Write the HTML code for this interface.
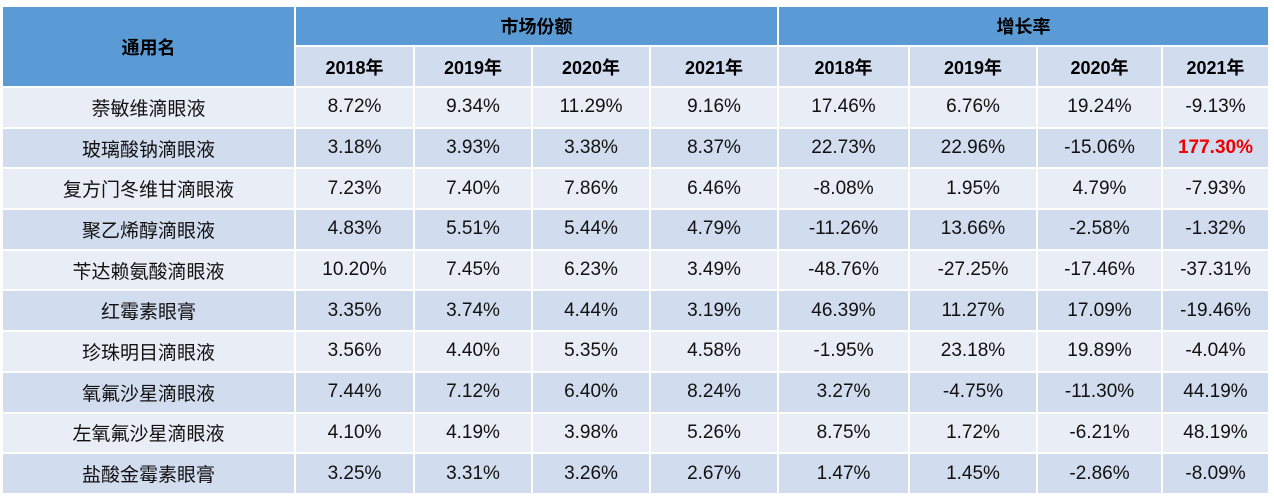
<!DOCTYPE html>
<html><head><meta charset="utf-8"><style>
body{margin:0;background:#fff;width:1274px;height:498px;overflow:hidden}
table{position:absolute;left:1px;top:5px;border-collapse:separate;border-spacing:2px;table-layout:fixed;font-family:"Liberation Sans","Noto Sans CJK SC",sans-serif;font-size:19px;color:#111}
td{padding:0;text-align:center;vertical-align:middle;overflow:hidden;white-space:nowrap}
.h{background:#5b9bd5;font-weight:bold;color:#000;font-size:18px}
.y{background:#d1dcee;font-weight:bold;color:#000;font-size:18px}
tr.a td{background:#e9edf6}
tr.b td{background:#d1dcee}
tr.a,tr.b{height:38.7px}
.r{color:#e00;font-weight:bold}
</style></head><body>
<table>
<colgroup><col style="width:291px"><col style="width:117px"><col style="width:116px"><col style="width:116px"><col style="width:126px"><col style="width:129px"><col style="width:126px"><col style="width:123px"><col style="width:105px"></colgroup>
<tr style="height:38px"><td class="h" rowspan="2">通用名</td><td class="h" colspan="4">市场份额</td><td class="h" colspan="4">增长率</td></tr>
<tr style="height:39px"><td class="y">2018年</td><td class="y">2019年</td><td class="y">2020年</td><td class="y">2021年</td><td class="y">2018年</td><td class="y">2019年</td><td class="y">2020年</td><td class="y">2021年</td></tr>
<tr class="a"><td>萘敏维滴眼液</td><td>8.72%</td><td>9.34%</td><td>11.29%</td><td>9.16%</td><td>17.46%</td><td>6.76%</td><td>19.24%</td><td>-9.13%</td></tr>
<tr class="b"><td>玻璃酸钠滴眼液</td><td>3.18%</td><td>3.93%</td><td>3.38%</td><td>8.37%</td><td>22.73%</td><td>22.96%</td><td>-15.06%</td><td class="r">177.30%</td></tr>
<tr class="a"><td>复方门冬维甘滴眼液</td><td>7.23%</td><td>7.40%</td><td>7.86%</td><td>6.46%</td><td>-8.08%</td><td>1.95%</td><td>4.79%</td><td>-7.93%</td></tr>
<tr class="b"><td>聚乙烯醇滴眼液</td><td>4.83%</td><td>5.51%</td><td>5.44%</td><td>4.79%</td><td>-11.26%</td><td>13.66%</td><td>-2.58%</td><td>-1.32%</td></tr>
<tr class="a"><td>苄达赖氨酸滴眼液</td><td>10.20%</td><td>7.45%</td><td>6.23%</td><td>3.49%</td><td>-48.76%</td><td>-27.25%</td><td>-17.46%</td><td>-37.31%</td></tr>
<tr class="b"><td>红霉素眼膏</td><td>3.35%</td><td>3.74%</td><td>4.44%</td><td>3.19%</td><td>46.39%</td><td>11.27%</td><td>17.09%</td><td>-19.46%</td></tr>
<tr class="a"><td>珍珠明目滴眼液</td><td>3.56%</td><td>4.40%</td><td>5.35%</td><td>4.58%</td><td>-1.95%</td><td>23.18%</td><td>19.89%</td><td>-4.04%</td></tr>
<tr class="b"><td>氧氟沙星滴眼液</td><td>7.44%</td><td>7.12%</td><td>6.40%</td><td>8.24%</td><td>3.27%</td><td>-4.75%</td><td>-11.30%</td><td>44.19%</td></tr>
<tr class="a"><td>左氧氟沙星滴眼液</td><td>4.10%</td><td>4.19%</td><td>3.98%</td><td>5.26%</td><td>8.75%</td><td>1.72%</td><td>-6.21%</td><td>48.19%</td></tr>
<tr class="b"><td>盐酸金霉素眼膏</td><td>3.25%</td><td>3.31%</td><td>3.26%</td><td>2.67%</td><td>1.47%</td><td>1.45%</td><td>-2.86%</td><td>-8.09%</td></tr>
</table>
</body></html>
